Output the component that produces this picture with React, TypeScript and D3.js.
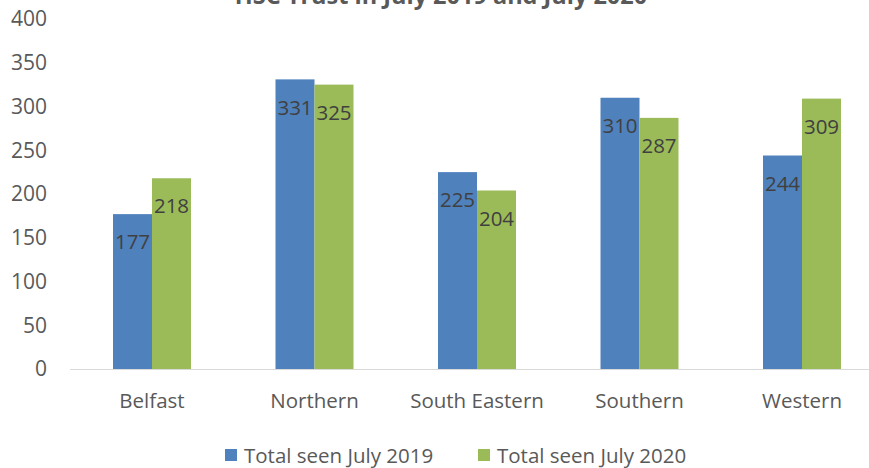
import React from "react";
import * as d3 from "d3";

const categories = ["Belfast", "Northern", "South Eastern", "Southern", "Western"];
const series2019 = [177, 331, 225, 310, 244];
const series2020 = [218, 325, 204, 287, 309];
const seriesNames = ["Total seen July 2019", "Total seen July 2020"];
const yTicks = [0, 50, 100, 150, 200, 250, 300, 350, 400];
const title = "HSC Trust in July 2019 and July 2020";

const W = 869;
const H = 468;
const colors = ["#4f81bd", "#9bbb59"];
const FONT = "'Open Sans', 'Noto Sans', sans-serif";

export default function App() {
  const x = d3.scaleBand<string>().domain(categories).range([70.75, 883.25]);
  const y = d3.scaleLinear().domain([0, 400]).range([369, 19]);
  const barW = 39;
  const data = [series2019, series2020];

  return (
    <svg width={W} height={H} style={{ position: "absolute", left: 0, top: 0, background: "#fff" }}>
      <text x={441} y={4} textAnchor="middle" fontFamily={FONT} fontWeight="bold" fontSize={23.5} fill="#595959">
        {title}
      </text>
      {yTicks.map((t) => (
        <text key={t} x={47} y={y(t)} dy="0.35em" textAnchor="end" fontFamily={FONT} fontSize={21} fill="#595959">
          {t}
        </text>
      ))}
      {categories.map((c, i) => {
        const cx = (x(c) as number) + x.bandwidth() / 2;
        return (
          <g key={c}>
            {data.map((s, k) => {
              const bx = cx - barW + k * barW;
              const top = y(s[i]);
              return (
                <g key={k}>
                  <rect x={bx} y={top} width={barW} height={y(0) - top} fill={colors[k]} />
                  <text x={bx + barW / 2} y={top + 28} dy="0.35em" textAnchor="middle" fontFamily={FONT} fontSize={20.5} fill="#404040">
                    {s[i]}
                  </text>
                </g>
              );
            })}
            <text x={cx} y={401} dy="0.35em" textAnchor="middle" fontFamily={FONT} fontSize={20.5} fill="#595959">
              {c}
            </text>
          </g>
        );
      })}
      <line x1={70} x2={W} y1={369.5} y2={369.5} stroke="#d9d9d9" strokeWidth={1} />
      {seriesNames.map((n, k) => {
        const lx = k === 0 ? 225 : 478;
        return (
          <g key={n}>
            <rect x={lx} y={449} width={12} height={12} fill={colors[k]} />
            <text x={lx + 19} y={456} dy="0.35em" fontFamily={FONT} fontSize={20.5} fill="#595959">
              {n}
            </text>
          </g>
        );
      })}
    </svg>
  );
}
